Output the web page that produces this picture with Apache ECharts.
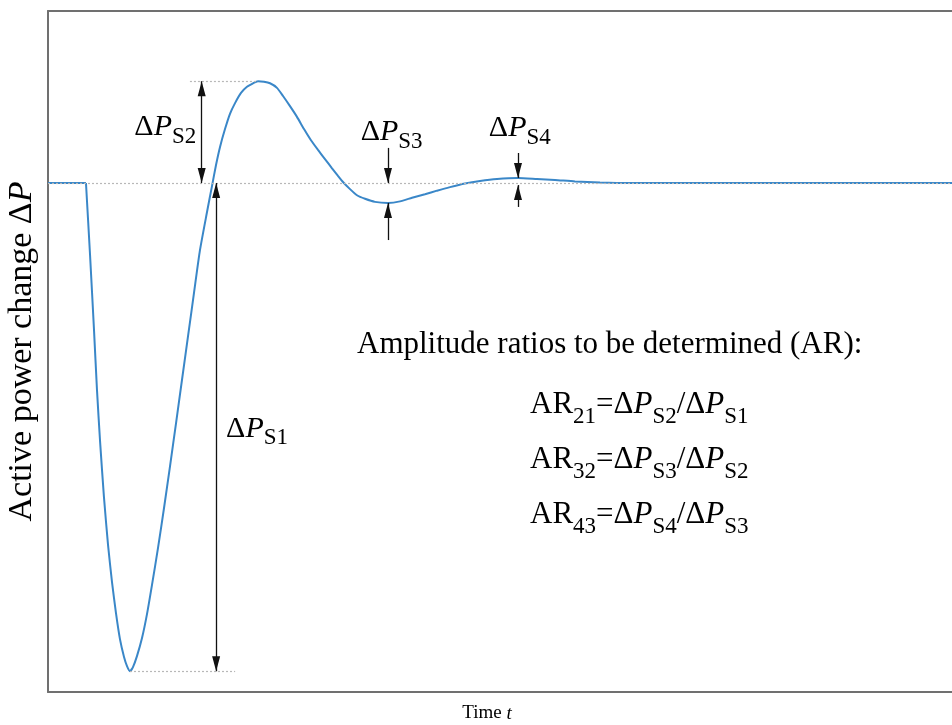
<!DOCTYPE html>
<html>
<head>
<meta charset="utf-8">
<script src="https://cdn.jsdelivr.net/npm/echarts@6/dist/echarts.min.js"></script>
<style>
  html, body { margin: 0; padding: 0; background: #fff; }
  #chart { width: 952px; height: 725px; }
</style>
</head>
<body>
<div id="chart"></div>
<script>
// ---- data (time in arbitrary units, ΔP normalised) ----
const time = [0, 0.420, 0.465, 0.509, 0.542, 0.575, 0.619, 0.664, 0.708, 0.752, 0.796, 0.841, 0.874,
  0.907, 0.940, 0.985, 1.040, 1.095, 1.150, 1.217, 1.283, 1.350, 1.416, 1.482, 1.549, 1.615, 1.681,
  1.759, 1.814, 1.858, 1.903, 1.958, 2.013, 2.069, 2.135, 2.201, 2.268, 2.323, 2.389, 2.456, 2.533,
  2.600, 2.677, 2.754, 2.832, 2.909, 2.987, 3.064, 3.142, 3.208, 3.263, 3.341, 3.418, 3.507, 3.617,
  3.761, 3.894, 4.027, 4.170, 4.303, 4.447, 4.613, 4.779, 4.967, 5.199, 5.409, 5.608, 5.830, 6.106,
  6.438, 7.5, 8.5, 10];
const dP = [0, 0, -0.141, -0.289, -0.407, -0.505, -0.617, -0.711, -0.784, -0.845, -0.896, -0.931,
  -0.949, -0.959, -0.951, -0.929, -0.894, -0.847, -0.790, -0.717, -0.639, -0.556, -0.472, -0.387,
  -0.301, -0.216, -0.132, -0.057, -0.006, 0.035, 0.071, 0.106, 0.136, 0.157, 0.177, 0.189, 0.196,
  0.200, 0.199, 0.196, 0.187, 0.171, 0.151, 0.130, 0.106, 0.084, 0.065, 0.047, 0.029, 0.014, 0.002,
  -0.012, -0.024, -0.031, -0.037, -0.039, -0.036, -0.029, -0.022, -0.015, -0.008, -0.001, 0.004,
  0.008, 0.010, 0.008, 0.006, 0.003, 0.001, 0, 0, 0, 0];
const labelSubs = ['S1', 'S2', 'S3', 'S4'];
const ratioLines = [['21', 'S2', 'S1'], ['32', 'S3', 'S2'], ['43', 'S4', 'S3']];
const headline = 'Amplitude ratios to be determined (AR):';

// ---- derived extremes ----
const pts = time.map((t, i) => [t, dP[i]]);
let iMin = 0, iMax = 0;
dP.forEach((v, i) => { if (v < dP[iMin]) iMin = i; if (v > dP[iMax]) iMax = i; });
let i3 = iMax; for (let i = iMax; i < dP.length; i++) if (dP[i] < dP[i3]) i3 = i;
let i4 = i3; for (let i = i3; i < dP.length; i++) if (dP[i] > dP[i4]) i4 = i;
const P1 = pts[iMin], P2 = pts[iMax], P3 = pts[i3], P4 = pts[i4];

const SERIF = 'Liberation Serif, Times New Roman, serif';
const BLUE = '#3a87c8';
const AXIS = '#707070';
const INK = '#000';

const dotted = { color: '#b8b8b8', type: [2, 2], width: 1.2 };
const arrowLine = { color: '#111', type: 'solid', width: 1.3 };

function arrow(x, y0, y1, both) {
  return [
    { coord: [x, y0], symbol: both ? 'triangle' : 'none', lineStyle: arrowLine },
    { coord: [x, y1], symbol: 'triangle' }
  ];
}

const labRich = {
  d: { fontFamily: SERIF, fontSize: 30, color: INK, lineHeight: 36, verticalAlign: 'top' },
  p: { fontFamily: SERIF, fontSize: 30, fontStyle: 'italic', color: INK, lineHeight: 36, verticalAlign: 'top' },
  s: { fontFamily: SERIF, fontSize: 23, color: INK, lineHeight: 36, verticalAlign: 'bottom' }
};
const txtRich = {
  n: { fontFamily: SERIF, fontSize: 31, color: INK, lineHeight: 39, verticalAlign: 'top' },
  i: { fontFamily: SERIF, fontSize: 31, fontStyle: 'italic', color: INK, lineHeight: 39, verticalAlign: 'top' },
  s: { fontFamily: SERIF, fontSize: 23, color: INK, lineHeight: 39, verticalAlign: 'bottom' }
};
const dpTok = s => '{d|Δ}{p|P}{s|' + s + '}';
const dpTok2 = s => '{n|Δ}{i|P}{s|' + s + '}';

const chart = echarts.init(document.getElementById('chart'), null, { renderer: 'canvas' });

const labelData = [
  { value: [1.64, 0.104], sub: labelSubs[1], pos: 'left' },
  { value: [1.97, -0.489], sub: labelSubs[0], pos: 'right' },
  { value: [P3[0] + 0.04, 0.094], sub: labelSubs[2], pos: 'inside' },
  { value: [P4[0] + 0.02, 0.102], sub: labelSubs[3], pos: 'inside' }
].map(o => ({
  value: o.value,
  label: { position: o.pos, distance: 0, formatter: dpTok(o.sub) }
}));

chart.setOption({
  animation: false,
  backgroundColor: '#fff',
  grid: { left: 48, right: 0, top: 11, bottom: 33, containLabel: false, outerBoundsMode: 'none' },
  xAxis: [
    {
      type: 'value', min: 0, max: 10, position: 'bottom',
      axisLine: { show: true, onZero: false, lineStyle: { color: AXIS, width: 2 } },
      axisTick: { show: false }, axisLabel: { show: false }, splitLine: { show: false },
      name: 'Time {i|t}', nameLocation: 'middle', nameGap: 12,
      nameTextStyle: { fontFamily: SERIF, fontSize: 19, color: INK, padding: [0, 26, 0, 0],
        rich: { i: { fontFamily: SERIF, fontSize: 19, fontStyle: 'italic', color: INK } } }
    },
    {
      type: 'value', min: 0, max: 10, position: 'top',
      axisLine: { show: true, onZero: false, lineStyle: { color: AXIS, width: 2 } },
      axisTick: { show: false }, axisLabel: { show: false }, splitLine: { show: false }
    }
  ],
  yAxis: {
    type: 'value', min: -1, max: 0.338,
    axisLine: { show: true, onZero: false, lineStyle: { color: AXIS, width: 2 } },
    axisTick: { show: false }, axisLabel: { show: false }, splitLine: { show: false },
    name: 'Active power change Δ{i|P}', nameLocation: 'middle', nameGap: 9,
    nameTextStyle: { fontFamily: SERIF, fontSize: 34, color: INK,
      rich: { i: { fontFamily: SERIF, fontSize: 34, fontStyle: 'italic', color: INK } } }
  },
  series: [
    {
      name: 'refLines', type: 'line', data: [], z: 1, silent: true,
      markLine: {
        silent: true, symbol: 'none', animation: false,
        label: { show: false },
        lineStyle: dotted,
        data: [
          { yAxis: 0 },
          [{ coord: [1.57, P2[1]] }, { coord: [P2[0], P2[1]] }],
          [{ coord: [P1[0], P1[1]] }, { coord: [2.07, P1[1]] }]
        ]
      }
    },
    {
      name: 'pre', type: 'line', data: pts.slice(0, 2), showSymbol: false, symbol: 'none', z: 3,
      lineStyle: { color: BLUE, width: 2 }, silent: true
    },
    {
      name: 'ΔP', type: 'line', data: pts.slice(1), showSymbol: false, symbol: 'none', smooth: 0.2, z: 3,
      lineStyle: { color: BLUE, width: 2 }, silent: true
    },
    {
      name: 'arrows', type: 'line', data: [], z: 4, silent: true,
      markLine: {
        silent: true, animation: false,
        symbolSize: [8, 15], symbolOffset: [[0, 7.5], [0, 7.5]],
        label: { show: false },
        lineStyle: arrowLine,
        data: [
          arrow(1.70, 0, P2[1], true),
          arrow(1.86, 0, P1[1], true),
          arrow(P3[0], 0.069, 0, false),
          arrow(P3[0], P3[1] - 0.073, P3[1], false),
          arrow(P4[0], P4[1] + 0.049, P4[1], false),
          arrow(P4[0], -0.047, -0.004, false)
        ]
      }
    },
    {
      name: 'labels', type: 'scatter', data: labelData, symbolSize: 0, z: 5, silent: true,
      itemStyle: { color: 'rgba(0,0,0,0)', opacity: 1 },
      label: { show: true, rich: labRich, color: INK, opacity: 1 }
    }
  ],
  graphic: [
    {
      type: 'text', left: 357, top: 329, silent: true,
      style: { text: headline, font: '31px ' + SERIF, fill: INK }
    }
  ].concat(ratioLines.map((r, k) => ({
    type: 'text', left: 530, top: 389 + k * 55, silent: true,
    style: {
      text: '{n|AR}{s|' + r[0] + '}{n|=}' + dpTok2(r[1]) + '{n|/}' + dpTok2(r[2]),
      rich: txtRich, fill: INK
    }
  })))
});
</script>
</body>
</html>
